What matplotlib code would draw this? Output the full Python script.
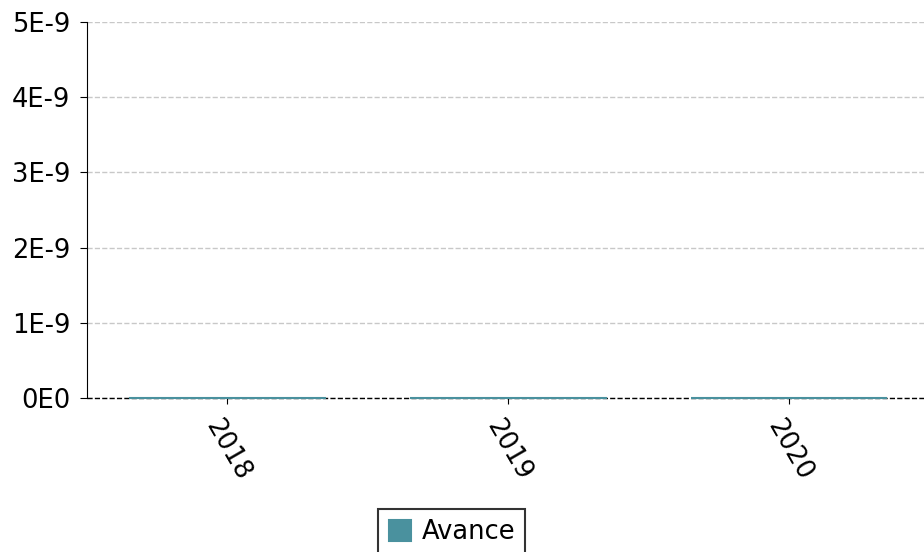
import numpy as np
import matplotlib.pyplot as plt
from matplotlib.ticker import FixedLocator

# Data
years = ['2018', '2019', '2020']
avance = [0.0, 0.0, 0.0]
y_ticks = [0, 1e-9, 2e-9, 3e-9, 4e-9, 5e-9]
y_labels = ['0E0', '1E-9', '2E-9', '3E-9', '4E-9', '5E-9']

bar_color = '#4a919e'

fig = plt.figure(figsize=(9.24, 5.52), dpi=100)
ax = fig.add_axes([0.094, 0.279, 0.906, 0.681])

x = np.arange(len(years))
bars = ax.bar(x, avance, width=0.7, color=bar_color, edgecolor=bar_color, linewidth=1.5,
              label='Avance', zorder=4)
for b in bars:
    b.set_clip_on(False)

ax.set_xlim(-0.5, 2.48)
ax.set_ylim(0, 5e-9)
ax.yaxis.set_major_locator(FixedLocator(y_ticks))
ax.set_yticklabels(y_labels, fontsize=18.5)
ax.set_xticks(x)
ax.set_xticklabels(years, fontsize=18.5, rotation=-60, ha='center', va='top')
ax.tick_params(axis='x', length=4, pad=8)
ax.tick_params(axis='y', length=5, pad=7)

ax.grid(axis='y', linestyle='--', color='#c8c8c8', linewidth=1, zorder=0)
ax.axhline(0, color='black', linestyle='--', linewidth=1, zorder=3, clip_on=False)

for s in ['top', 'right', 'bottom']:
    ax.spines[s].set_visible(False)
ax.spines['left'].set_color('black')

leg = ax.legend(loc='upper center', bbox_to_anchor=(0.436, -0.295), fontsize=18.5,
                frameon=True, fancybox=False, handlelength=0.85, handleheight=0.85,
                handletextpad=0.42, borderpad=0.4, borderaxespad=0)
leg.get_frame().set_edgecolor('black')
leg.get_frame().set_linewidth(1.5)

fig.savefig('out.png', dpi=100)
